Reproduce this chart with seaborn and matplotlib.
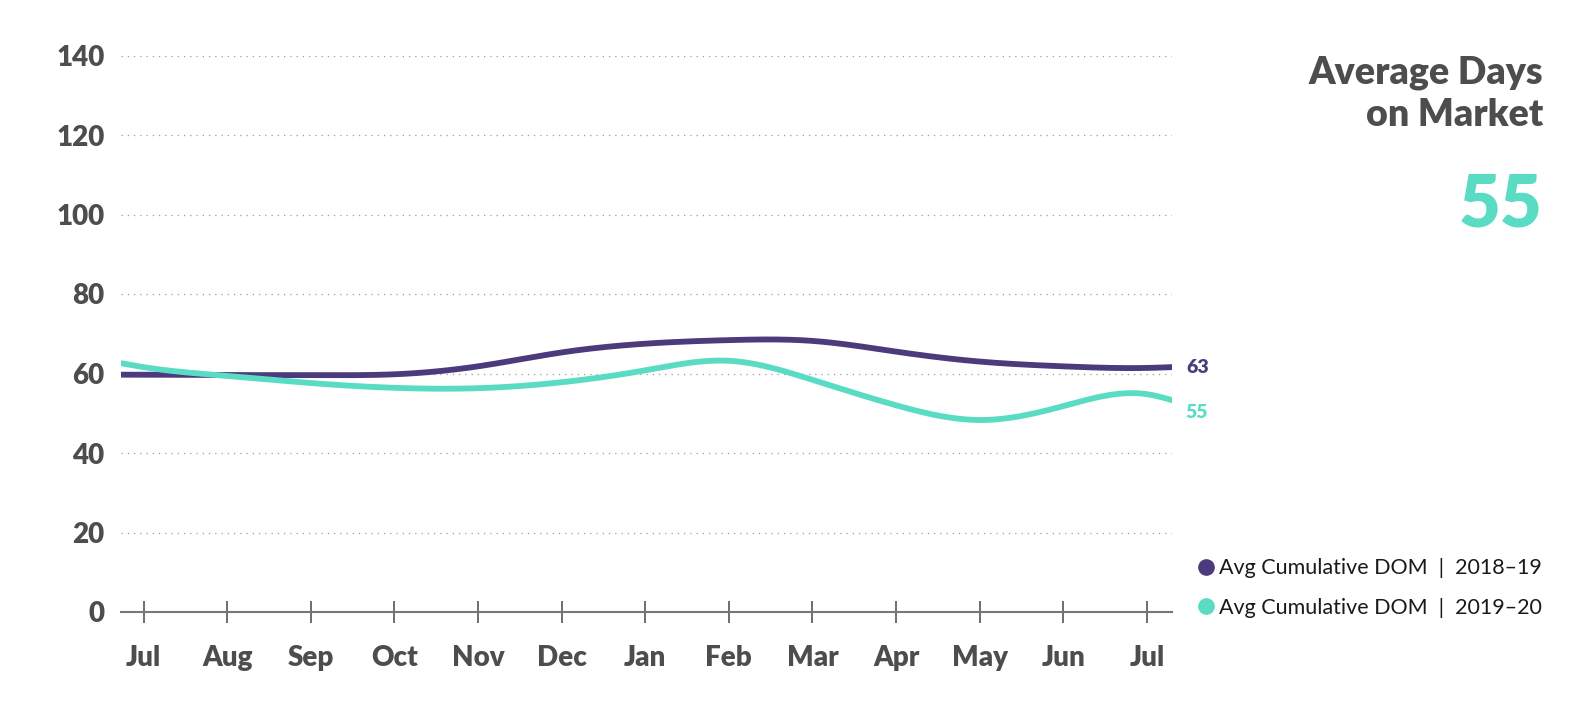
import numpy as np
import pandas as pd
import matplotlib
matplotlib.use("Agg")
import matplotlib.pyplot as plt
from matplotlib.lines import Line2D
import seaborn as sns

# data -------------------------------------------------------------------------
months = ["Jul", "Aug", "Sep", "Oct", "Nov", "Dec", "Jan", "Feb", "Mar", "Apr", "May", "Jun", "Jul"]
# x position in months (Jul = 0); the lines run a little past the first/last tick
x_pos = [-0.27, 0, 1, 2, 3, 4, 5, 6, 7, 8, 9, 10, 11, 12, 12.3]
dom_2018_19 = [59.7, 59.7, 59.6, 59.6, 59.8, 61.8, 65.3, 67.5, 68.4, 68.2, 65.5, 63.0, 61.8, 61.4, 61.6]
dom_2019_20 = [62.6, 61.6, 59.4, 57.6, 56.4, 56.3, 57.8, 60.8, 63.2, 58.4, 52.0, 48.3, 51.8, 54.8, 53.3]
series_names = ["Avg Cumulative DOM  |  2018\u201319", "Avg Cumulative DOM  |  2019\u201320"]
end_labels = ["63", "55"]
headline = "55"
colors = ["#4b3b7c", "#5adcc4"]
grey = "#4d4d4d"


# natural cubic spline so the lines come out smooth like the original
def smooth(x, y, n=400):
    x = np.asarray(x, float); y = np.asarray(y, float)
    k = len(x); h = np.diff(x)
    A = np.zeros((k, k)); b = np.zeros(k)
    A[0, 0] = A[-1, -1] = 1
    for i in range(1, k - 1):
        A[i, i - 1] = h[i - 1]; A[i, i] = 2 * (h[i - 1] + h[i]); A[i, i + 1] = h[i]
        b[i] = 3 * ((y[i + 1] - y[i]) / h[i] - (y[i] - y[i - 1]) / h[i - 1])
    c = np.linalg.solve(A, b)
    xs = np.linspace(x[0], x[-1], n)
    idx = np.clip(np.searchsorted(x, xs) - 1, 0, k - 2)
    dx = xs - x[idx]
    bb = (y[idx + 1] - y[idx]) / h[idx] - h[idx] * (2 * c[idx] + c[idx + 1]) / 3
    d = (c[idx + 1] - c[idx]) / (3 * h[idx])
    return xs, y[idx] + bb * dx + c[idx] * dx ** 2 + d * dx ** 3


frames = []
for name, vals in zip(series_names, [dom_2018_19, dom_2019_20]):
    xs, ys = smooth(x_pos, vals)
    frames.append(pd.DataFrame({"x": xs, "dom": ys, "series": name}))
df = pd.concat(frames)

sns.set_style("white")
plt.rcParams["font.family"] = ["Lato", "DejaVu Sans"]

fig = plt.figure(figsize=(15.81, 7.17), dpi=100)
ax = fig.add_axes([121 / 1581, 1 - 612 / 717, (1172 - 121) / 1581, (612 - 55.5) / 717])

sns.lineplot(data=df, x="x", y="dom", hue="series", palette=colors, linewidth=4.2,
             legend=False, ax=ax, sort=False)

ax.set_xlim(x_pos[0], x_pos[-1])
ax.set_ylim(0, 140)
ax.set_yticks(range(0, 141, 20))
ax.set_xticks(range(len(months)))
ax.set_xticklabels(months)
ax.set_xlabel("")
ax.set_ylabel("")

for y in range(20, 141, 20):
    ax.axhline(y, color="#9a9a9a", linestyle=(0, (1, 4)), linewidth=0.9, zorder=0)

for s in ["top", "right", "left"]:
    ax.spines[s].set_visible(False)
ax.spines["bottom"].set_color("#777777")
ax.spines["bottom"].set_linewidth(1.5)
ax.tick_params(axis="x", bottom=True, direction="inout", length=16, width=1.2, color="#555555",
               pad=16, labelsize=20, labelcolor=grey)
ax.tick_params(axis="y", left=False, length=0, pad=12, labelsize=20, labelcolor=grey)
for t in ax.get_xticklabels() + ax.get_yticklabels():
    t.set_fontweight("heavy")

# values at the end of each line
for vals, lab, c, dy in zip([dom_2018_19, dom_2019_20], end_labels, colors, [0, -9]):
    ax.annotate(lab, (x_pos[-1], vals[-1]), xytext=(10, dy), textcoords="offset points",
                va="center", ha="left", fontsize=14, fontweight="heavy", color=c,
                annotation_clip=False)

# title block on the right
fig.text(1543 / 1581, 1 - 55 / 717, "Average Days\non Market", ha="right", va="top",
         fontsize=27, fontweight="heavy", color=grey, linespacing=1.3)
fig.text(1543 / 1581, 1 - 226 / 717, headline, ha="right", va="baseline",
         fontsize=52, fontweight="heavy", color=colors[1])

handles = [Line2D([], [], marker="o", linestyle="", markersize=11, color=c) for c in colors]
fig.legend(handles, series_names, loc="upper right", bbox_to_anchor=(1561 / 1581, 1 - 539 / 717),
           frameon=False, fontsize=15.5, handletextpad=0.1, labelspacing=0.9,
           handlelength=1.0, labelcolor="#1a1a1a")

fig.savefig("out.png", dpi=100)
